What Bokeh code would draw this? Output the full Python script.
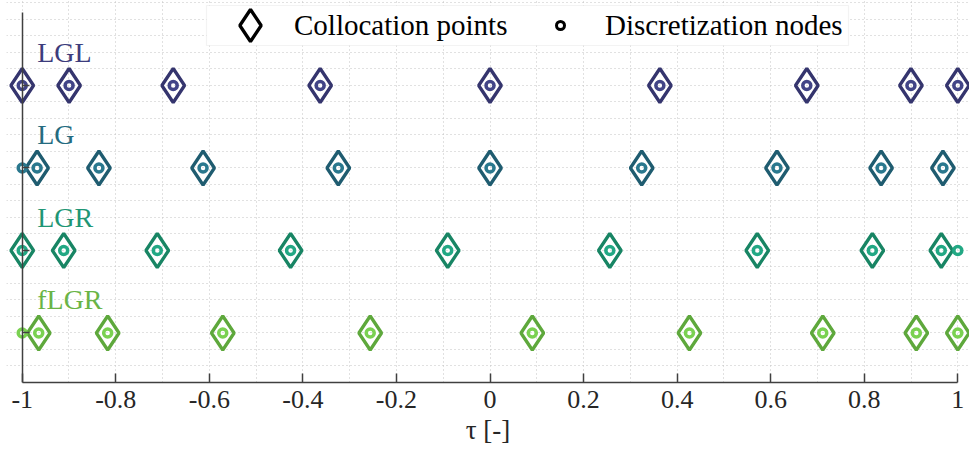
from bokeh.plotting import figure
from bokeh.models import (Range1d, LinearAxis, FixedTicker, SingleIntervalTicker,
                          Legend, LegendItem, BoxAnnotation, ColumnDataSource)
from bokeh.core.properties import value
from bokeh.embed import file_html
from bokeh.resources import INLINE

# ---------------- data ----------------
methods = ["LGL", "LG", "LGR", "fLGR"]
rows = [4, 3, 2, 1]

lgl_colloc = [-1.0, -0.8998, -0.6772, -0.3631, 0.0, 0.3631, 0.6772, 0.8998, 1.0]
lgl_nodes = [-1.0, -0.8998, -0.6772, -0.3631, 0.0, 0.3631, 0.6772, 0.8998, 1.0]

lg_colloc = [-0.9682, -0.8360, -0.6134, -0.3243, 0.0, 0.3243, 0.6134, 0.8360, 0.9682]
lg_nodes = [-1.0, -0.9682, -0.8360, -0.6134, -0.3243, 0.0, 0.3243, 0.6134, 0.8360, 0.9682]

lgr_colloc = [-1.0, -0.9113, -0.7113, -0.4263, -0.0904, 0.2561, 0.5713, 0.8173, 0.9647]
lgr_nodes = [-1.0, -0.9113, -0.7113, -0.4263, -0.0904, 0.2561, 0.5713, 0.8173, 0.9647, 1.0]

flgr_colloc = [-0.9647, -0.8173, -0.5713, -0.2561, 0.0904, 0.4263, 0.7113, 0.9113, 1.0]
flgr_nodes = [-1.0, -0.9647, -0.8173, -0.5713, -0.2561, 0.0904, 0.4263, 0.7113, 0.9113, 1.0]

colloc_sets = [lgl_colloc, lg_colloc, lgr_colloc, flgr_colloc]
node_sets = [lgl_nodes, lg_nodes, lgr_nodes, flgr_nodes]

x_ticks = [-1, -0.8, -0.6, -0.4, -0.2, 0, 0.2, 0.4, 0.6, 0.8, 1]
x_tick_labels = ["-1", "-0.8", "-0.6", "-0.4", "-0.2", "0", "0.2", "0.4", "0.6", "0.8", "1"]
tau_min = -1
nan = float("nan")

# ---------------- style ----------------
diamond_colors = ["#35356e", "#1f5c70", "#188564", "#5ea83c"]
node_colors = ["#414487", "#2a788e", "#22a884", "#7ad151"]
label_colors = ["#3c3c7c", "#246b80", "#1f9675", "#6ab446"]
SERIF = "Liberation Serif"
AXIS_COL = "#404040"

p = figure(width=969, height=460,
           x_range=Range1d(-1.0336, 1.025), y_range=Range1d(0.4, 5.03),
           output_backend="svg", toolbar_location=None, y_axis_location=None,
           min_border_left=6, min_border_right=0, min_border_top=0,
           min_border_bottom=78, outline_line_color=None,
           background_fill_color="white", border_fill_color="white")

# grids
p.xgrid.ticker = SingleIntervalTicker(interval=0.1)
p.xgrid.bounds = (-1, 1)
p.ygrid.ticker = SingleIntervalTicker(interval=0.2)
p.ygrid.bounds = (0.4, 5.03)
for g in (p.xgrid, p.ygrid):
    g.grid_line_color = "#c2c2c2"
    g.grid_line_dash = "1 3"
    g.grid_line_width = 1

# x axis
xa = p.xaxis[0]
xa.ticker = FixedTicker(ticks=x_ticks, minor_ticks=[])
xa.major_label_overrides = {t: s for t, s in zip(x_ticks, x_tick_labels)}
xa.bounds = (-1, 1)
xa.major_tick_in = 9
xa.major_tick_out = 0
xa.minor_tick_line_color = None
xa.axis_line_color = AXIS_COL
xa.axis_line_width = 1.5
xa.major_tick_line_color = AXIS_COL
xa.major_tick_line_width = 1.5
xa.major_label_text_font = SERIF
xa.major_label_text_font_size = "26px"
xa.major_label_text_color = "#262626"
xa.major_label_standoff = 8
xa.axis_label = "τ [-]"
xa.axis_label_text_font = SERIF
xa.axis_label_text_font_style = "normal"
xa.axis_label_text_font_size = "27px"
xa.axis_label_text_color = "#262626"
xa.axis_label_standoff = 4

# y axis placed at tau = -1 (ticks only, no labels)
ya = LinearAxis(fixed_location=tau_min, bounds=(0.4, 4.885),
                ticker=FixedTicker(ticks=rows, minor_ticks=[]),
                major_label_overrides={r: "" for r in rows},
                major_label_standoff=0,
                major_tick_in=7, major_tick_out=0, minor_tick_line_color=None,
                axis_line_color=AXIS_COL, axis_line_width=1.5,
                major_tick_line_color=AXIS_COL, major_tick_line_width=1.5)
p.add_layout(ya, "left")

# markers
for r, cx, nx, dc, nc in zip(rows, colloc_sets, node_sets, diamond_colors, node_colors):
    p.scatter(x=cx, y=[r] * len(cx), marker="diamond", size=34, line_width=3.3,
              line_color=dc, fill_color=None)
    p.scatter(x=nx, y=[r] * len(nx), marker="circle", size=8, line_width=3.5,
              line_color=nc, fill_color=None)

# row labels
lab_src = ColumnDataSource(dict(x=[tau_min] * len(methods), y=rows, name=methods,
                                color=label_colors))
p.text(x="x", y="y", text="name", source=lab_src, text_color="color",
       text_font=value(SERIF), text_font_size="28px", x_offset=15, y_offset=-33,
       text_baseline="alphabetic", text_align="left")

# legend (proxy renderers, one invisible point each)
leg_d = p.scatter(x=[nan], y=[nan], marker="diamond", size=34, line_width=3.3,
                  line_color="black", fill_color=None)
leg_c = p.scatter(x=[nan], y=[nan], marker="circle", size=8, line_width=3,
                  line_color="black", fill_color=None)

box = BoxAnnotation(left=206, right=848, top=5, bottom=45,
                    left_units="canvas", right_units="canvas",
                    top_units="canvas", bottom_units="canvas",
                    fill_color="white", fill_alpha=1.0,
                    line_color="#d6d6d6", line_width=1.2)
p.add_layout(box)

common = dict(orientation="horizontal", padding=0, margin=0, spacing=0,
              border_line_color=None, background_fill_alpha=0,
              label_text_font=SERIF, label_text_font_size="29px",
              label_text_color="black", label_height=20)
legA = Legend(items=[LegendItem(label="Collocation points", renderers=[leg_d], index=0)],
              location=(204, 317), glyph_width=80, glyph_height=80,
              label_standoff=4, **common)
legB = Legend(items=[LegendItem(label="Discretization nodes", renderers=[leg_c], index=0)],
              location=(544, 337), glyph_width=20, glyph_height=40,
              label_standoff=35, **common)
p.add_layout(legA)
p.add_layout(legB)

open("out.html", "w").write(file_html(p, INLINE))
